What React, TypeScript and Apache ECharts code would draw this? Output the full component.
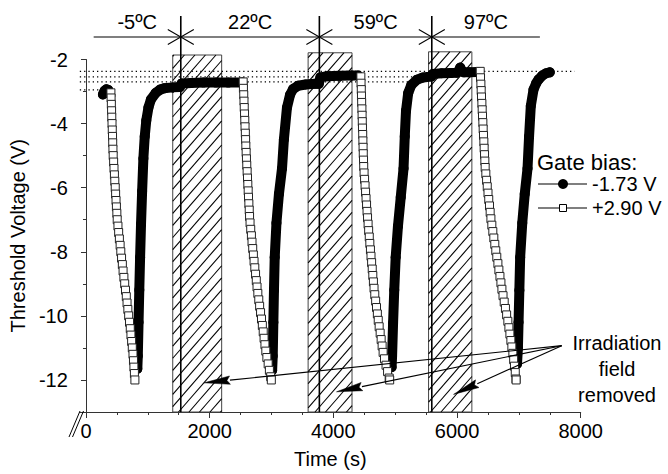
import React, { useEffect, useRef } from 'react';
import * as echarts from 'echarts';

const FONT = '"Liberation Sans", Arial, Helvetica, sans-serif';

// axis ticks
const xTickLabels = [0, 2000, 4000, 6000, 8000];
const xMinorTicks = [0, 500, 1000, 1500, 2000, 2500, 3000, 3500, 4000, 4500, 5000, 5500, 6000, 6500, 7000, 7500, 8000];
const yTickLabels = [-12, -10, -8, -6, -4, -2];
const yMinorTicks = [-11, -9, -7, -5, -3];

// temperature periods (s)
const temperatureLabels = ['-5ºC', '22ºC', '59ºC', '97ºC'];
const temperatureEdges = [124, 1533, 3774, 5592, 7340];

// irradiation field removed: [start s, end s, top V]
const irradiationOff = [
  [1403, 2194, -1.86],
  [3592, 4302, -1.79],
  [5540, 6240, -1.76],
];

// dotted reference levels (V) and where they end (s)
const referenceLevels = [-2.37, -2.54, -2.70, -2.95];
const referenceLevelEnds = [7900, 5580, 5250, 290];

// annotation arrows (data coords)
const arrowTips = [[1910, -12.09], [4051, -12.37], [5944, -12.45]];
const arrowOrigin = [7693, -10.93];

// Gate bias -1.73 V (filled circles): recovery segments [t (s), Vth (V)]
const recovery0 = [[274, -3.09], [300, -2.98], [330, -2.93], [360, -2.95]];
const recovery1 = [[830, -11.65], [838, -11.25], [850, -10.2], [862, -9.19], [875, -8.17], [890, -7.14], [908, -6.1], [928, -5.09], [950, -4.4], [975, -3.9], [1010, -3.5], [1050, -3.25], [1130, -3.04], [1200, -2.94], [1264, -2.9], [1400, -2.87], [1520, -2.86], [1545, -2.75], [1700, -2.73], [1900, -2.72], [2100, -2.72], [2300, -2.72], [2530, -2.72]];
const recovery2 = [[3010, -11.7], [3020, -11.25], [3030, -10.2], [3040, -9.19], [3052, -8.17], [3080, -7.1], [3120, -6.2], [3170, -5.4], [3200, -4.5], [3250, -3.5], [3300, -3.1], [3350, -2.92], [3430, -2.82], [3550, -2.78], [3700, -2.76], [3765, -2.76], [3790, -2.56], [3900, -2.52], [4100, -2.51], [4300, -2.5], [4400, -2.5]];
const recovery3 = [[4942, -11.6], [4950, -11.25], [4966, -10.22], [4985, -9.19], [5008, -8.17], [5045, -7.2], [5090, -6.3], [5135, -5.4], [5155, -4.4], [5175, -3.6], [5210, -3.05], [5260, -2.8], [5353, -2.63], [5450, -2.56], [5585, -2.53], [5610, -2.45], [5750, -2.43], [5900, -2.42], [6000, -2.41], [6035, -2.33], [6052, -2.25], [6070, -2.33], [6110, -2.4], [6200, -2.4], [6330, -2.39]];
const recovery4 = [[6970, -11.5], [6985, -11.0], [6995, -10.2], [7008, -9.2], [7021, -8.17], [7055, -7.1], [7095, -6.2], [7140, -5.4], [7165, -4.4], [7193, -3.45], [7237, -2.94], [7280, -2.74], [7316, -2.63], [7380, -2.5], [7440, -2.43], [7500, -2.4]];

// Gate bias +2.90 V (open squares): stress segments [t (s), Vth (V)]
const decay1 = [[403, -3.04], [406, -3.2], [410, -3.4], [414, -3.6], [417, -3.8], [421, -4.0], [425, -4.2], [429, -4.4], [432, -4.6], [436, -4.8], [440, -5.0], [447, -5.2], [453, -5.4], [460, -5.6], [466, -5.8], [473, -6.0], [479, -6.2], [486, -6.4], [492, -6.6], [499, -6.8], [505, -7.0], [517, -7.2], [528, -7.4], [540, -7.6], [552, -7.8], [563, -8.0], [575, -8.2], [588, -8.4], [600, -8.6], [613, -8.8], [626, -9.0], [639, -9.2], [652, -9.4], [664, -9.6], [677, -9.8], [690, -10.0], [704, -10.2], [716, -10.4], [727, -10.6], [738, -10.8], [749, -11.0], [760, -11.2], [768, -11.4], [775, -11.6], [783, -11.8], [791, -12.0]];
const decay2 = [[2542, -2.7], [2546, -2.9], [2551, -3.1], [2555, -3.3], [2559, -3.5], [2564, -3.7], [2568, -3.9], [2572, -4.1], [2577, -4.3], [2581, -4.5], [2585, -4.7], [2590, -4.9], [2595, -5.1], [2600, -5.3], [2606, -5.5], [2612, -5.7], [2617, -5.9], [2623, -6.1], [2628, -6.3], [2634, -6.5], [2640, -6.7], [2645, -6.9], [2653, -7.1], [2664, -7.3], [2675, -7.5], [2685, -7.7], [2696, -7.9], [2707, -8.1], [2718, -8.3], [2730, -8.5], [2742, -8.7], [2754, -8.9], [2766, -9.1], [2779, -9.3], [2794, -9.5], [2808, -9.7], [2823, -9.9], [2838, -10.1], [2852, -10.3], [2866, -10.5], [2880, -10.7], [2894, -10.9], [2908, -11.1], [2925, -11.3], [2946, -11.5], [2966, -11.7], [2987, -11.9], [2997, -12.0]];
const decay3 = [[4445, -2.54], [4448, -2.74], [4452, -2.94], [4455, -3.14], [4458, -3.34], [4462, -3.54], [4465, -3.74], [4468, -3.94], [4471, -4.14], [4475, -4.34], [4478, -4.54], [4481, -4.74], [4484, -4.94], [4488, -5.14], [4491, -5.34], [4497, -5.54], [4505, -5.74], [4513, -5.94], [4521, -6.14], [4529, -6.34], [4537, -6.54], [4545, -6.74], [4553, -6.94], [4562, -7.14], [4571, -7.34], [4581, -7.54], [4590, -7.74], [4600, -7.94], [4609, -8.14], [4619, -8.34], [4629, -8.54], [4638, -8.74], [4648, -8.94], [4658, -9.14], [4670, -9.34], [4684, -9.54], [4698, -9.74], [4712, -9.94], [4726, -10.14], [4741, -10.34], [4757, -10.54], [4773, -10.74], [4789, -10.94], [4805, -11.14], [4827, -11.34], [4852, -11.54], [4877, -11.74], [4903, -11.94], [4911, -12.0]];
const decay4 = [[6375, -2.37], [6380, -2.57], [6386, -2.77], [6391, -2.97], [6396, -3.17], [6402, -3.37], [6407, -3.57], [6412, -3.77], [6418, -3.97], [6423, -4.17], [6428, -4.37], [6434, -4.57], [6439, -4.77], [6445, -4.97], [6450, -5.17], [6455, -5.37], [6466, -5.57], [6478, -5.77], [6489, -5.97], [6501, -6.17], [6513, -6.37], [6525, -6.57], [6536, -6.77], [6548, -6.97], [6563, -7.17], [6579, -7.37], [6595, -7.57], [6611, -7.77], [6627, -7.97], [6643, -8.17], [6661, -8.37], [6677, -8.57], [6694, -8.77], [6710, -8.97], [6726, -9.17], [6744, -9.37], [6763, -9.57], [6783, -9.77], [6802, -9.97], [6822, -10.17], [6839, -10.37], [6855, -10.57], [6871, -10.77], [6887, -10.97], [6903, -11.17], [6916, -11.37], [6929, -11.57], [6942, -11.77], [6954, -11.97], [6956, -12.0]];

const recoveries = [recovery0, recovery1, recovery2, recovery3, recovery4];
const decays = [decay1, decay2, decay3, decay4];

const X_MIN = -100;
const X_MAX = 8000;
const Y_MIN = -13;
const Y_MAX = -2;

export default function App() {
  const ref = useRef<HTMLDivElement>(null);

  useEffect(() => {
    const chart = echarts.init(ref.current as HTMLDivElement, null, { renderer: 'svg' });

    const circleSeries = recoveries.map((d) => ({
      type: 'line',
      name: '-1.73 V',
      data: d,
      z: 3,
      silent: true,
      symbol: 'circle',
      symbolSize: 10,
      showSymbol: true,
      itemStyle: { color: '#000' },
      lineStyle: { color: '#000', width: 10, cap: 'round', join: 'round' },
      emphasis: { disabled: true },
    }));

    const squareSeries = decays.map((d) => ({
      type: 'line',
      name: '+2.90 V',
      data: d,
      z: 4,
      silent: true,
      symbol: 'rect',
      symbolSize: 8,
      showSymbol: true,
      itemStyle: { color: '#fff', borderColor: '#222', borderWidth: 1 },
      lineStyle: { color: '#222', width: 1 },
      emphasis: { disabled: true },
    }));

    const dottedSeries = referenceLevels.map((v, i) => ({
      type: 'line',
      data: [[X_MIN, v], [referenceLevelEnds[i], v]],
      z: 2,
      silent: true,
      symbol: 'none',
      lineStyle: { color: '#000', width: 1.2, type: [1.3, 3] },
      emphasis: { disabled: true },
    }));

    const rectSeries = {
      type: 'custom',
      z: 1,
      silent: true,
      clip: false,
      data: irradiationOff,
      encode: { x: [0, 1], y: 2 },
      renderItem: (params: any, api: any) => {
        const x0 = api.value(0);
        const x1 = api.value(1);
        const top = api.value(2);
        const p0 = api.coord([x0, top]);
        const p1 = api.coord([x1, Y_MIN]);
        const xl = p0[0];
        const yt = p0[1];
        const xr = p1[0];
        const yb = p1[1];
        const h = yb - yt;
        const s = 1.15;
        const step = 10.5;
        const children: any[] = [
          { type: 'rect', shape: { x: xl, y: yt, width: xr - xl, height: h }, style: { fill: '#fff', stroke: '#444', lineWidth: 1 } },
        ];
        const cStart = Math.floor((xl - h / s) / step) * step;
        for (let c = cStart; c < xr; c += step) {
          const d0 = Math.max(0, s * (xl - c));
          const d1 = Math.min(h, s * (xr - c));
          if (d1 > d0) {
            children.push({
              type: 'line',
              shape: { x1: c + d0 / s, y1: yb - d0, x2: c + d1 / s, y2: yb - d1 },
              style: { stroke: '#000', lineWidth: 1.1 },
            });
          }
        }
        return { type: 'group', children };
      },
    };

    const axisText = { color: '#000', fontSize: 20, fontFamily: FONT };

    const option: any = {
      animation: false,
      backgroundColor: '#fff',
      textStyle: { fontFamily: FONT },
      grid: { left: 79, top: 59.5, width: 501.7, height: 357.5, containLabel: false },
      xAxis: [
        {
          type: 'value', min: X_MIN, max: X_MAX, position: 'bottom',
          axisLine: { show: true, lineStyle: { color: '#333', width: 1 } },
          axisTick: { show: true, customValues: xTickLabels, length: 6, lineStyle: { color: '#333' } },
          axisLabel: { show: true, customValues: xTickLabels, margin: 9, formatter: (v: number) => String(v), ...axisText },
          splitLine: { show: false },
          name: 'Time (s)', nameLocation: 'middle', nameGap: 37,
          nameTextStyle: { ...axisText },
        },
        {
          type: 'value', min: X_MIN, max: X_MAX, position: 'bottom',
          axisLine: { show: false },
          axisTick: { show: true, customValues: xMinorTicks, length: 3, lineStyle: { color: '#333' } },
          axisLabel: { show: false },
          splitLine: { show: false },
        },
      ],
      yAxis: [
        {
          type: 'value', min: Y_MIN, max: Y_MAX, position: 'left',
          axisLine: { show: true, lineStyle: { color: '#333', width: 1 } },
          axisTick: { show: true, customValues: yTickLabels, length: 5, lineStyle: { color: '#333' } },
          axisLabel: { show: true, customValues: yTickLabels, margin: 12, formatter: (v: number) => String(v), ...axisText },
          splitLine: { show: false },
          name: 'Threshold Voltage (V)', nameLocation: 'middle', nameGap: 51, nameRotate: 90,
          nameTextStyle: { ...axisText },
        },
        {
          type: 'value', min: Y_MIN, max: Y_MAX, position: 'left',
          axisLine: { show: false },
          axisTick: { show: true, customValues: yMinorTicks, length: 3, lineStyle: { color: '#333' } },
          axisLabel: { show: false },
          splitLine: { show: false },
        },
      ],
      series: [rectSeries, ...dottedSeries, ...circleSeries, ...squareSeries],
    };

    chart.setOption(option);

    const px = (p: number[]) => chart.convertToPixel({ gridIndex: 0 }, p) as number[];
    const yBottom = px([0, Y_MIN])[1];
    const bracketY = 37;
    const lineTop = 16;
    const g: any[] = [];

    // temperature bracket
    const ex = temperatureEdges.map((t) => px([t, Y_MAX])[0]);
    g.push({ type: 'line', z: 5, silent: true, shape: { x1: ex[0], y1: bracketY, x2: ex[ex.length - 1], y2: bracketY }, style: { stroke: '#000', lineWidth: 1.2 } });
    for (let i = 1; i < ex.length - 1; i++) {
      const x = ex[i];
      g.push({ type: 'line', z: 2, silent: true, shape: { x1: x, y1: lineTop, x2: x, y2: yBottom }, style: { stroke: '#000', lineWidth: 1.6 } });
      g.push({ type: 'polyline', z: 5, silent: true, shape: { points: [[x - 13, bracketY - 7.5], [x, bracketY], [x - 13, bracketY + 7.5]] }, style: { stroke: '#000', lineWidth: 1.1, fill: 'none' } });
      g.push({ type: 'polyline', z: 5, silent: true, shape: { points: [[x + 13, bracketY - 7.5], [x, bracketY], [x + 13, bracketY + 7.5]] }, style: { stroke: '#000', lineWidth: 1.1, fill: 'none' } });
    }
    temperatureLabels.forEach((lab, i) => {
      g.push({
        type: 'text', z: 5, silent: true,
        style: { text: lab, x: (ex[i] + ex[i + 1]) / 2, y: 22, align: 'center', verticalAlign: 'middle', fill: '#000', fontSize: 20, fontFamily: FONT },
      });
    });

    // irradiation arrows
    const o = px(arrowOrigin);
    arrowTips.forEach((tp) => {
      const t = px(tp);
      const dx = o[0] - t[0];
      const dy = o[1] - t[1];
      const d = Math.hypot(dx, dy);
      const ux = dx / d;
      const uy = dy / d;
      const len = 26;
      const half = 4.2;
      const bx = t[0] + ux * len;
      const by = t[1] + uy * len;
      const nx = -uy;
      const ny = ux;
      g.push({ type: 'line', z: 10, silent: true, shape: { x1: bx, y1: by, x2: o[0], y2: o[1] }, style: { stroke: '#000', lineWidth: 1.1 } });
      g.push({ type: 'polygon', z: 10, silent: true, shape: { points: [[t[0], t[1]], [bx + nx * half, by + ny * half], [bx + ux * -3, by + uy * -3], [bx - nx * half, by - ny * half]] }, style: { fill: '#000', stroke: '#000', lineWidth: 0.5 } });
    });
    g.push({
      type: 'text', z: 10, silent: true,
      style: { text: 'Irradiation\nfield\nremoved', x: 617, y: 369, align: 'center', verticalAlign: 'middle', lineHeight: 26, fill: '#000', fontSize: 20, fontFamily: FONT },
    });

    // axis break marks
    g.push({ type: 'line', z: 10, silent: true, shape: { x1: 69, y1: 437, x2: 80, y2: 411 }, style: { stroke: '#000', lineWidth: 1 } });
    g.push({ type: 'line', z: 10, silent: true, shape: { x1: 72.5, y1: 437, x2: 83.5, y2: 411 }, style: { stroke: '#000', lineWidth: 1 } });

    // legend
    g.push({ type: 'text', z: 10, silent: true, style: { text: 'Gate bias:', x: 537, y: 162, align: 'left', verticalAlign: 'middle', fill: '#000', fontSize: 22, fontFamily: FONT } });
    g.push({ type: 'line', z: 10, silent: true, shape: { x1: 538, y1: 184, x2: 587, y2: 184 }, style: { stroke: '#000', lineWidth: 1.2 } });
    g.push({ type: 'circle', z: 11, silent: true, shape: { cx: 563, cy: 184, r: 5 }, style: { fill: '#000' } });
    g.push({ type: 'text', z: 10, silent: true, style: { text: '-1.73 V', x: 592, y: 184, align: 'left', verticalAlign: 'middle', fill: '#000', fontSize: 20, fontFamily: FONT } });
    g.push({ type: 'line', z: 10, silent: true, shape: { x1: 538, y1: 208, x2: 587, y2: 208 }, style: { stroke: '#000', lineWidth: 1.2 } });
    g.push({ type: 'rect', z: 11, silent: true, shape: { x: 559.5, y: 204.5, width: 7, height: 7 }, style: { fill: '#fff', stroke: '#000', lineWidth: 1 } });
    g.push({ type: 'text', z: 10, silent: true, style: { text: '+2.90 V', x: 592, y: 208, align: 'left', verticalAlign: 'middle', fill: '#000', fontSize: 20, fontFamily: FONT } });

    chart.setOption({ graphic: g });

    return () => chart.dispose();
  }, []);

  return <div ref={ref} style={{ position: 'absolute', left: 0, top: 0, width: 668, height: 474 }} />;
}
